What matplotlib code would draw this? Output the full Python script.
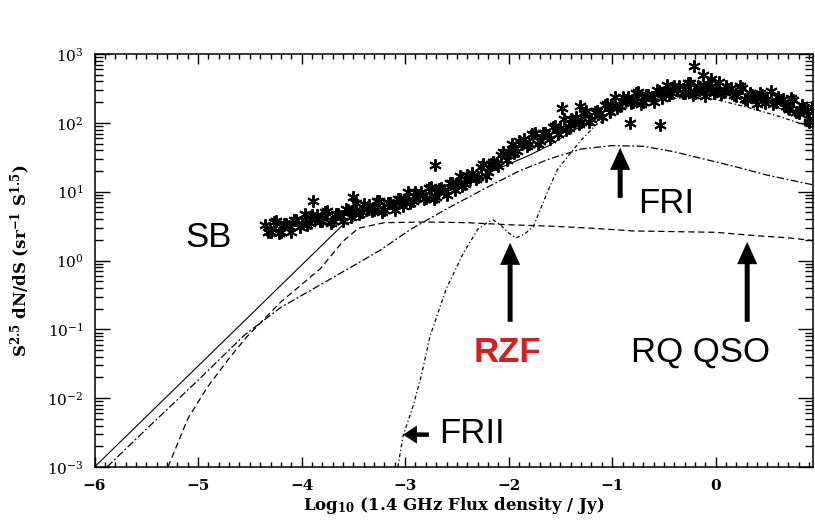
import matplotlib
matplotlib.use('Agg')
import matplotlib.pyplot as plt
from matplotlib.ticker import MultipleLocator, LogLocator, NullFormatter, LogFormatterMathtext, FixedLocator
import numpy as np

plt.rcParams['font.family'] = ['DejaVu Serif']
plt.rcParams['mathtext.fontset'] = 'custom'
plt.rcParams['mathtext.rm'] = 'DejaVu Serif:bold'
plt.rcParams['mathtext.it'] = 'DejaVu Serif:italic:bold'
plt.rcParams['mathtext.bf'] = 'DejaVu Serif:bold'

# source counts (log10 S, log10 of S^2.5 dN/dS)
counts_x = [
    -4.35, -4.30, -4.25, -4.20, -4.15, -4.10, -4.05, -4.00, -3.95, -3.90,
    -3.85, -3.80, -3.75, -3.70, -3.65, -3.60, -3.55, -3.50, -3.45, -3.40,
    -3.35, -3.30, -3.25, -3.20, -3.15, -3.10, -3.05, -3.00, -2.95, -2.90,
    -2.85, -2.80, -2.75, -2.70, -2.65, -2.60, -2.55, -2.50, -2.45, -2.40,
    -2.35, -2.30, -2.25, -2.20, -2.15, -2.10, -2.05, -2.00, -1.95, -1.90,
    -1.85, -1.80, -1.75, -1.70, -1.65, -1.60, -1.55, -1.50, -1.45, -1.40,
    -1.35, -1.30, -1.25, -1.20, -1.15, -1.10, -1.05, -1.00, -0.95, -0.90,
    -0.85, -0.80, -0.75, -0.70, -0.65, -0.60, -0.55, -0.50, -0.45, -0.40,
    -0.35, -0.30, -0.25, -0.20, -0.15, -0.10, -0.05, 0.00, 0.05, 0.10,
    0.15, 0.20, 0.25, 0.30, 0.35, 0.40, 0.45, 0.50, 0.55, 0.60,
    0.65, 0.70, 0.75, 0.80, 0.85, 0.90,
    -4.32, -4.27, -4.22, -4.17, -4.12, -4.07, -4.02, -3.97, -3.92, -3.87,
    -3.82, -3.77, -3.72, -3.67, -3.62, -3.57, -3.52, -3.47, -3.42, -3.37,
    -3.32, -3.27, -3.22, -3.17, -3.12, -3.07, -3.02, -2.97, -2.92, -2.87,
    -2.82, -2.77, -2.72, -2.67, -2.62, -2.57, -2.52, -2.47, -2.42, -2.37,
    -2.32, -2.27, -2.22, -2.17, -2.12, -2.07, -2.02, -1.97, -1.92, -1.87,
    -1.82, -1.77, -1.72, -1.67, -1.62, -1.57, -1.52, -1.47, -1.42, -1.37,
    -1.32, -1.27, -1.22, -1.17, -1.12, -1.07, -1.02, -0.97, -0.92, -0.87,
    -0.82, -0.77, -0.72, -0.67, -0.62, -0.57, -0.52, -0.47, -0.42, -0.37,
    -0.32, -0.27, -0.22, -0.17, -0.12, -0.07, -0.02, 0.03, 0.08, 0.13,
    0.18, 0.23, 0.28, 0.33, 0.38, 0.43, 0.48, 0.53, 0.58, 0.63,
    0.68, 0.73, 0.78, 0.83, 0.88, 0.93,
    -3.89, -3.50, -2.71, -1.48, -1.31, -0.83, -0.54, -0.21, -0.12, -0.05,
    0.71, 0.90,
]
counts_log = [
    0.51, 0.42, 0.57, 0.42, 0.53, 0.42, 0.59, 0.55, 0.52, 0.66,
    0.66, 0.57, 0.72, 0.57, 0.68, 0.58, 0.74, 0.71, 0.67, 0.82,
    0.81, 0.73, 0.87, 0.73, 0.84, 0.73, 0.90, 0.87, 0.84, 0.99,
    0.99, 0.91, 1.07, 0.93, 1.05, 0.95, 1.13, 1.11, 1.08, 1.24,
    1.27, 1.22, 1.40, 1.29, 1.43, 1.37, 1.57, 1.57, 1.56, 1.74,
    1.76, 1.70, 1.86, 1.74, 1.86, 1.77, 1.95, 1.93, 1.90, 2.06,
    2.08, 2.01, 2.18, 2.05, 2.17, 2.09, 2.27, 2.25, 2.22, 2.38,
    2.38, 2.30, 2.45, 2.30, 2.41, 2.31, 2.47, 2.43, 2.40, 2.54,
    2.53, 2.44, 2.58, 2.43, 2.52, 2.39, 2.54, 2.48, 2.42, 2.54,
    2.50, 2.39, 2.51, 2.33, 2.41, 2.27, 2.40, 2.34, 2.27, 2.38,
    2.34, 2.22, 2.33, 2.15, 2.21, 2.06,
    0.42, 0.56, 0.40, 0.53, 0.50, 0.59, 0.48, 0.67, 0.55, 0.61,
    0.57, 0.71, 0.55, 0.68, 0.65, 0.75, 0.63, 0.83, 0.70, 0.77,
    0.72, 0.87, 0.70, 0.84, 0.81, 0.90, 0.79, 0.99, 0.87, 0.94,
    0.90, 1.05, 0.90, 1.04, 1.02, 1.12, 1.02, 1.23, 1.11, 1.19,
    1.18, 1.36, 1.23, 1.40, 1.40, 1.54, 1.46, 1.69, 1.59, 1.69,
    1.67, 1.84, 1.69, 1.85, 1.83, 1.94, 1.84, 2.05, 1.93, 2.01,
    1.99, 2.15, 2.01, 2.16, 2.14, 2.26, 2.16, 2.37, 2.25, 2.33,
    2.29, 2.44, 2.28, 2.41, 2.38, 2.48, 2.36, 2.55, 2.43, 2.49,
    2.44, 2.58, 2.41, 2.54, 2.49, 2.56, 2.43, 2.60, 2.45, 2.49,
    2.41, 2.53, 2.34, 2.44, 2.38, 2.44, 2.29, 2.46, 2.30, 2.33,
    2.25, 2.36, 2.16, 2.26, 2.18, 2.23,
    0.86, 0.93, 1.39, 2.22, 2.25, 2.00, 1.97, 2.82, 2.70, 2.64,
    2.20, 2.02,
]

# model curves
total_x = [-6.0, -3.6, -3.3, -3.0, -2.7, -2.4, -2.2, -2.0, -1.8, -1.6, -1.4, -1.2,
           -1.0, -0.8, -0.6, -0.4, -0.2, 0.0, 0.2, 0.4, 0.6, 0.8, 0.94]
total_log = [-3.0, 0.52, 0.68, 0.81, 0.93, 1.12, 1.27, 1.40, 1.53, 1.68, 1.87, 2.03,
             2.16, 2.27, 2.35, 2.41, 2.44, 2.43, 2.38, 2.31, 2.22, 2.12, 2.04]

fri_x = [-5.88, -5.5, -5.0, -4.55, -4.2, -3.7, -3.24, -2.95, -2.6, -2.2, -1.9,
         -1.6, -1.3, -1.0, -0.7, -0.4, -0.1, 0.2, 0.5, 0.75, 0.94]
fri_log = [-3.0, -2.45, -1.74, -1.08, -0.68, -0.25, 0.15, 0.45, 0.75, 1.07, 1.30,
           1.48, 1.62, 1.67, 1.66, 1.58, 1.47, 1.36, 1.24, 1.16, 1.10]

rq_x = [-5.29, -5.1, -4.91, -4.7, -4.53, -4.2, -3.82, -3.6, -3.45, -3.2, -2.8,
        -2.4, -2.0, -1.6, -1.2, -0.8, -0.4, 0.0, 0.4, 0.7, 0.94]
rq_log = [-3.0, -2.3, -1.84, -1.42, -1.11, -0.6, -0.12, 0.28, 0.47, 0.55, 0.56,
          0.55, 0.52, 0.50, 0.47, 0.43, 0.42, 0.41, 0.36, 0.33, 0.29]

frii_x = [-3.07, -3.02, -2.92, -2.84, -2.76, -2.6, -2.44, -2.3, -2.2, -2.15, -2.08,
          -2.0, -1.93, -1.85, -1.76, -1.63, -1.53, -1.43, -1.3, -1.15, -0.9, -0.6,
          -0.3, 0.0, 0.3, 0.6, 0.94]
frii_log = [-3.0, -2.55, -2.1, -1.65, -1.1, -0.4, 0.1, 0.45, 0.56, 0.59, 0.52,
            0.40, 0.33, 0.38, 0.50, 0.98, 1.32, 1.51, 1.75, 1.98, 2.2, 2.32,
            2.37, 2.34, 2.23, 2.1, 1.93]

y_decades = [-3, -2, -1, 0, 1, 2, 3]

fig = plt.figure(figsize=(8.15, 5.24), dpi=100)
ax = fig.add_axes([0.116, 0.1088, 0.8816, 0.788])

ax.plot(counts_x, 10 ** np.array(counts_log), linestyle='none', marker=(6, 2, 0),
        markersize=9, markeredgewidth=1.4, color='black')

ax.plot(total_x, 10 ** np.array(total_log), '-', color='black', lw=0.8)
ax.plot(fri_x, 10 ** np.array(fri_log), color='black', lw=0.9, linestyle=(0, (6, 2, 1.5, 2)))
ax.plot(rq_x, 10 ** np.array(rq_log), color='black', lw=0.9, linestyle=(0, (5, 3)))
ax.plot(frii_x, 10 ** np.array(frii_log), color='black', lw=0.9, linestyle=(0, (3, 2, 1, 2)))

ax.set_yscale('log')
ax.set_xlim(-6, 0.94)
ax.set_ylim(1e-3, 1e3)

ax.xaxis.set_major_locator(MultipleLocator(1))
ax.xaxis.set_minor_locator(MultipleLocator(0.1))
ax.yaxis.set_major_locator(FixedLocator([10.0 ** k for k in y_decades]))
ax.yaxis.set_minor_locator(LogLocator(base=10, subs=np.arange(2, 10), numticks=20))
ax.yaxis.set_minor_formatter(NullFormatter())
ax.yaxis.set_major_formatter(LogFormatterMathtext())

ax.tick_params(which='both', direction='in', top=True, right=True, width=1.0)
ax.tick_params(axis='x', which='major', length=7, labelsize=11, pad=9)
ax.tick_params(axis='x', which='minor', length=3.5)
ax.tick_params(axis='y', which='major', length=11, labelsize=11, pad=8)
ax.tick_params(axis='y', which='minor', length=5.5)
for lab in ax.get_xticklabels():
    lab.set_fontweight('bold')
for s in ax.spines.values():
    s.set_linewidth(1.1)

ax.set_xlabel('Log$_{10}$ (1.4 GHz Flux density / Jy)', fontsize=12, fontweight='bold', labelpad=1)
ax.set_ylabel(r'S$^{2.5}$ dN/dS (sr$^{-1}$ S$^{1.5}$)', fontsize=12, fontweight='bold', labelpad=10)

# component labels and arrows
lab_font = dict(family='Liberation Sans', fontsize=25)
ax.text(-4.90, 10 ** 0.20, 'SB', ha='center', va='baseline', **lab_font)
ax.text(-0.48, 10 ** 0.69, 'FRI', ha='center', va='baseline', **lab_font)
ax.text(-2.01, 10 ** -1.47, 'RZF', ha='center', va='baseline', color='#d42020',
        fontweight='bold', **lab_font)
ax.text(-0.15, 10 ** -1.47, 'RQ QSO', ha='center', va='baseline', **lab_font)
ax.text(-2.35, 10 ** -2.65, 'FRII', ha='center', va='baseline', **lab_font)

big_arrow = dict(arrowstyle='simple,head_length=1.6,head_width=1.45,tail_width=0.36',
                 fc='black', ec='none', shrinkA=0, shrinkB=0)
ax.annotate('', xy=(-0.923, 10 ** 1.64), xytext=(-0.923, 10 ** 0.91), arrowprops=big_arrow)
ax.annotate('', xy=(-1.986, 10 ** 0.26), xytext=(-1.986, 10 ** -0.89), arrowprops=big_arrow)
ax.annotate('', xy=(0.304, 10 ** 0.27), xytext=(0.304, 10 ** -0.89), arrowprops=big_arrow)
ax.annotate('', xy=(-3.02, 10 ** -2.53), xytext=(-2.77, 10 ** -2.53),
            arrowprops=dict(arrowstyle='simple,head_length=1.0,head_width=1.3,tail_width=0.32',
                            fc='black', ec='none', shrinkA=0, shrinkB=0))

fig.savefig('out.png', dpi=100)
